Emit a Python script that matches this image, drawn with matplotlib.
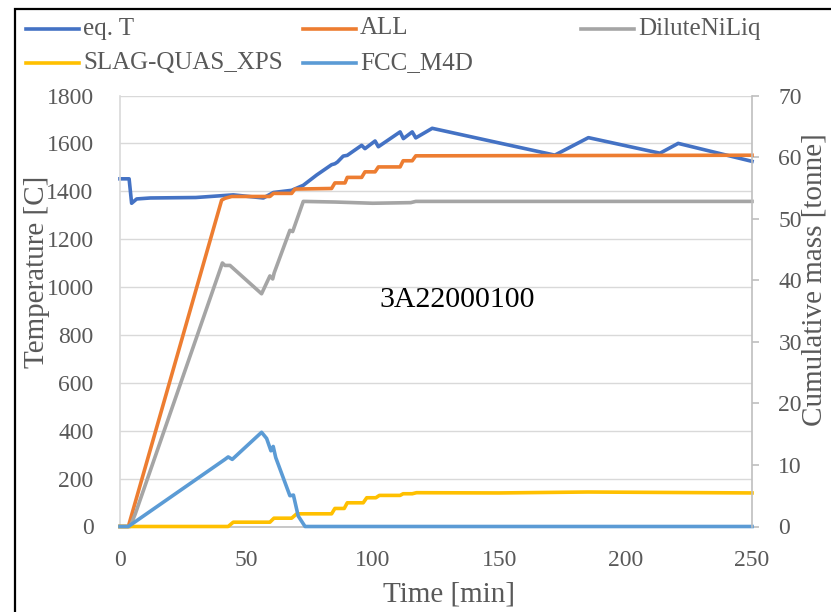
import matplotlib
matplotlib.use("Agg")
import matplotlib.pyplot as plt
from matplotlib.lines import Line2D
from matplotlib.patches import Rectangle

plt.rcParams['font.family'] = ['Liberation Serif', 'DejaVu Serif']

# ---------------- data ----------------
time_eqT = [0, 3.6, 4.6, 6.6, 12, 30, 44.8, 56.7, 60.7, 67.9, 72.5, 77.8, 83.7, 85.0, 86.0,
            88.3, 89.9, 95.6, 96.9, 100.9, 102.2, 110.8, 112.1, 115.6, 117.0, 123.5,
            172, 185.3, 213.6, 220.8, 250]
eq_T = [1452, 1452, 1350, 1368, 1372, 1374, 1385, 1372, 1395, 1404, 1425, 1468, 1511, 1515, 1522,
        1547, 1550, 1592, 1578, 1610, 1586, 1648, 1620, 1648, 1623, 1663,
        1551, 1624, 1559, 1600, 1525]

time_all = [0, 3.3, 40.2, 41.5, 44.2, 59.3, 60.7, 67.9, 69.2, 83.7, 85.0, 89.0, 89.9,
            95.6, 96.9, 100.9, 102.2, 110.8, 112.0, 115.6, 117.0, 250]
mass_all = [0, 0, 53.0, 53.3, 53.6, 53.6, 54.1, 54.1, 54.8, 54.9, 55.8, 55.8, 56.7,
            56.7, 57.6, 57.6, 58.4, 58.4, 59.4, 59.4, 60.2, 60.3]

time_dilute = [0, 4.0, 6.0, 40.5, 41.5, 43.5, 56.0, 59.3, 60.4, 61.0, 67.2, 68.3, 72.5,
               85, 100, 115, 117, 250]
mass_dilute = [0, 0, 2.0, 42.8, 42.4, 42.4, 37.8, 40.7, 40.2, 41.2, 48.1, 47.9, 52.8,
               52.7, 52.5, 52.6, 52.8, 52.8]

time_slag = [0, 42.8, 44.8, 59.3, 60.9, 67.9, 69.9, 83.7, 85.0, 88.7, 89.9, 96.2, 97.6,
             101.2, 102.6, 110.8, 112.0, 115.6, 117.3, 150, 185, 250]
mass_slag = [0, 0, 0.7, 0.7, 1.35, 1.35, 2.06, 2.06, 2.93, 2.93, 3.85, 3.85, 4.67,
             4.67, 5.05, 5.05, 5.32, 5.32, 5.49, 5.45, 5.6, 5.45]

time_fcc = [0, 3.3, 41.5, 42.8, 44.4, 56.0, 58.0, 59.7, 60.6, 61.6, 67.2, 68.6, 70.5, 73.2, 250]
mass_fcc = [0, 0, 10.9, 11.3, 10.9, 15.3, 14.3, 12.3, 13.0, 11.2, 5.0, 5.1, 1.7, 0, 0]

series_names = ["eq. T", "ALL", "DiluteNiLiq", "SLAG-QUAS_XPS", "FCC_M4D"]
series_colors = ["#4472C4", "#ED7D31", "#A5A5A5", "#FFC000", "#5B9BD5"]

x_ticks = [0, 50, 100, 150, 200, 250]
left_ticks = list(range(0, 1801, 200))
right_ticks = list(range(0, 71, 10))
annotation = "3A22000100"

# ---------------- figure ----------------
W, H = 831, 612
fig = plt.figure(figsize=(W / 100, H / 100), dpi=100)
fig.patch.set_facecolor("white")

left, right, top, bottom = 120, 752, 95.5, 526.5
ax = fig.add_axes([left / W, 1 - bottom / H, (right - left) / W, (bottom - top) / H])
ax2 = ax.twinx()

lw = 2.6
txt = "#595959"

ax.plot(time_eqT, eq_T, color=series_colors[0], lw=lw, clip_on=False, solid_joinstyle="round")
ax2.plot(time_all, mass_all, color=series_colors[1], lw=lw, clip_on=False, solid_joinstyle="round")
ax2.plot(time_dilute, mass_dilute, color=series_colors[2], lw=lw, clip_on=False, solid_joinstyle="round")
ax2.plot(time_slag, mass_slag, color=series_colors[3], lw=lw, clip_on=False, solid_joinstyle="round")
ax2.plot(time_fcc, mass_fcc, color=series_colors[4], lw=lw, clip_on=False, solid_joinstyle="round")

ax.set_xlim(0, 250)
ax.set_ylim(0, 1800)
ax2.set_ylim(0, 70)
ax.set_xticks(x_ticks)
ax.set_yticks(left_ticks)
ax2.set_yticks(right_ticks)

ax.grid(axis="y", color="#D9D9D9", lw=1.0)
ax.set_axisbelow(True)

for a in (ax, ax2):
    a.spines["top"].set_visible(False)
ax.spines["left"].set_color("#D9D9D9")
ax.spines["bottom"].set_color("#BFBFBF")
ax.spines["right"].set_visible(False)
ax2.spines["left"].set_visible(False)
ax2.spines["bottom"].set_visible(False)
ax2.spines["right"].set_color("#BFBFBF")
for s in ("left", "bottom"):
    ax.spines[s].set_linewidth(1.2)
ax2.spines["right"].set_linewidth(1.2)

ax.tick_params(axis="y", length=0, pad=19, labelsize=17, labelcolor=txt)
ax.tick_params(axis="x", length=0, pad=17, labelsize=17, labelcolor=txt)
ax2.tick_params(axis="y", length=5, width=1.2, color="#BFBFBF", pad=14, labelsize=17, labelcolor=txt)

ax.set_xlabel("Time [min]", fontsize=21, color=txt)
ax.xaxis.set_label_coords((449.5 - left) / (right - left), -(595 - bottom) / (bottom - top))
ax.xaxis.label.set_va("center")

ax.set_ylabel("Temperature [C]", fontsize=21, color=txt, va="center")
ax.yaxis.set_label_coords((37 - left) / (right - left), (bottom - 272) / (bottom - top))

ax2.set_ylabel("Cumulative mass [tonne]", fontsize=21, color=txt, va="center")
ax2.yaxis.set_label_coords((815 - left) / (right - left), (bottom - 280) / (bottom - top))

ax.text(133.3, 946, annotation, fontsize=21.5, color="black", ha="center", va="center")

# ---------------- legend (Excel-like fixed columns) ----------------
legend_rows = [0, 0, 0, 1, 1]
legend_cols = [0, 1, 2, 0, 1]
col_x = [26, 303, 581]
row_y = [28.5, 63]
for name, c, r, col in zip(series_names, series_colors, legend_rows, legend_cols):
    x0 = col_x[col]
    y = 1 - row_y[r] / H
    fig.add_artist(Line2D([x0 / W, (x0 + 53) / W], [y, y], color=c, lw=lw,
                          transform=fig.transFigure))
    fig.text((x0 + 57) / W, y, name, fontsize=18, color=txt, ha="left", va="center")

# chart border (cut off on right and bottom)
fig.add_artist(Rectangle((15 / W, -0.05), 1.2, 1.05 - 9 / H, fill=False,
                         edgecolor="black", lw=1.6, transform=fig.transFigure))

fig.savefig("out.png", dpi=100)
